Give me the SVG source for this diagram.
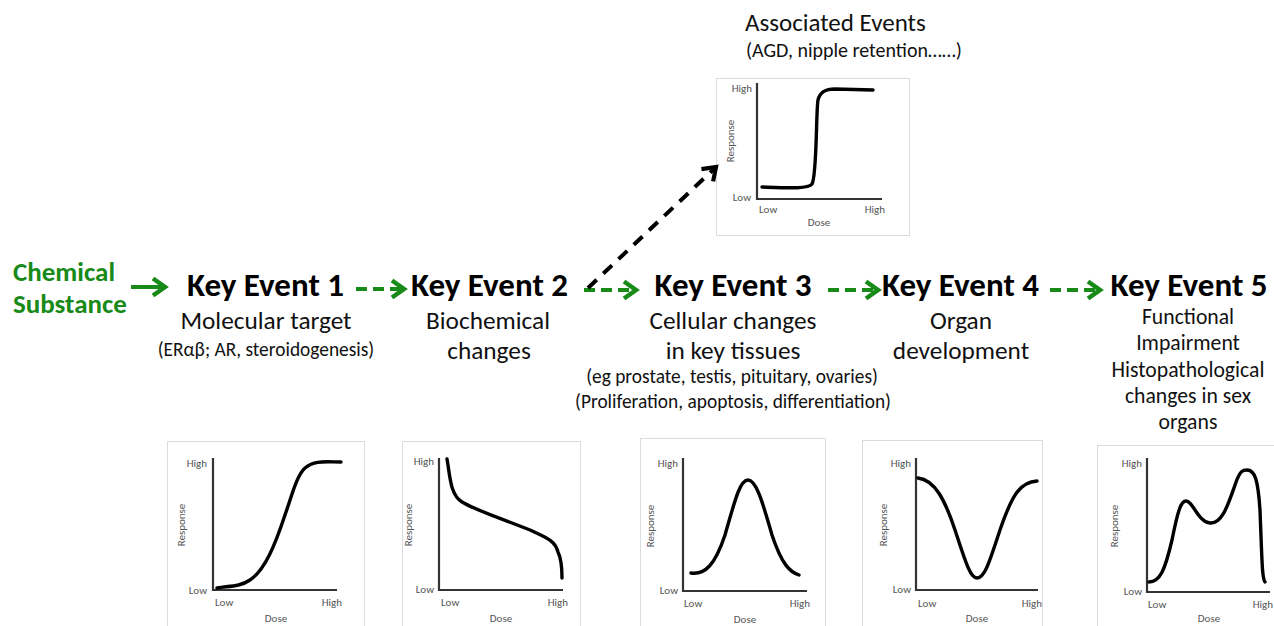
<svg xmlns="http://www.w3.org/2000/svg" width="1274" height="626" viewBox="0 0 1274 626">
<defs>
<marker id="gh" viewBox="0 0 20 24" refX="15" refY="12" markerWidth="20" markerHeight="24" orient="auto" markerUnits="userSpaceOnUse">
<path d="M3,3.5 L15,12 L3,20.5" fill="none" stroke="#178a17" stroke-width="4.5"/>
</marker>
<marker id="bh" viewBox="0 0 20 24" refX="15" refY="12" markerWidth="20" markerHeight="24" orient="auto" markerUnits="userSpaceOnUse">
<path d="M3,3.5 L15,12 L3,20.5" fill="none" stroke="#000" stroke-width="4.2"/>
</marker>
</defs>
<style>
text{font-family:Carlito,Lato,"Open Sans",sans-serif}
.key{font-size:33px;font-weight:bold;fill:#000;text-anchor:middle}
.sub{font-size:25.3px;fill:#111;text-anchor:middle}
.sub5{font-size:21.7px;fill:#111;text-anchor:middle}
.sm{font-size:19.4px;fill:#111;text-anchor:middle}
.chem{font-size:27px;font-weight:bold;fill:#178a17}
.box{fill:#fff;stroke:#dcdcdc;stroke-width:1}
.ax{fill:none;stroke:#333;stroke-width:2.2}
.cv{fill:none;stroke:#000;stroke-width:3.4;stroke-linecap:round;stroke-linejoin:round}
.lb{font-size:11px;fill:#555}
.e{text-anchor:end}
.m{text-anchor:middle}
.g{fill:none;stroke:#178a17;stroke-width:4}
.gd{stroke-dasharray:11 6}
.bd{fill:none;stroke:#000;stroke-width:4;stroke-dasharray:12 9}
</style>

<g id="associated">
<text x="745" y="31" style="font-size:25px;fill:#111">Associated Events</text>
<text x="746" y="57" style="font-size:20px;fill:#111">(AGD, nipple retention……)</text>
<rect class="box" x="716.5" y="78.5" width="193" height="157"/>
<path class="ax" d="M757,83 V199 H882"/>
<path class="cv" d="M762,187 C790,188 808,189 812,184 C817,176 816,110 818,100 C820,92 825,89 835,89 L873,90"/>
<text class="lb e" x="752" y="92">High</text>
<text class="lb e" x="751" y="201">Low</text>
<text class="lb" x="759" y="213">Low</text>
<text class="lb e" x="885" y="213">High</text>
<text class="lb m" x="819" y="226">Dose</text>
<text class="lb m" transform="translate(734,141) rotate(-90)">Response</text>
</g>

<g id="chemical">
<text class="chem" x="13" y="281">Chemical</text>
<text class="chem" x="13" y="313">Substance</text>
</g>

<g id="ke1">
<text class="key" x="265.5" y="296">Key Event 1</text>
<text class="sub" x="266" y="329">Molecular target</text>
<text class="sm" x="266" y="356">(ERαβ; AR, steroidogenesis)</text>
<rect class="box" x="167.5" y="441.5" width="197" height="190"/>
<path class="ax" d="M213,458 V590 H337"/>
<path class="cv" d="M217,588 C228,586 240,587 250,580 C265,570 275,545 285,515 C292,495 297,475 305,468 C315,460 325,462 341,462"/>
<text class="lb e" x="207" y="467">High</text>
<text class="lb e" x="207" y="594">Low</text>
<text class="lb" x="215" y="606">Low</text>
<text class="lb e" x="342" y="606">High</text>
<text class="lb m" x="276" y="622">Dose</text>
<text class="lb m" transform="translate(185,525) rotate(-90)">Response</text>
</g>

<g id="ke2">
<text class="key" x="489.5" y="296">Key Event 2</text>
<text class="sub" x="488" y="329">Biochemical</text>
<text class="sub" x="489" y="359">changes</text>
<rect class="box" x="402.5" y="441.5" width="178" height="190"/>
<path class="ax" d="M439,458 V590 H563"/>
<path class="cv" d="M447,459 C450,475 450,495 462,502 C475,510 500,518 530,530 C545,537 555,540 558,552 C562,560 562,570 562,578"/>
<text class="lb e" x="434" y="465">High</text>
<text class="lb e" x="434" y="593">Low</text>
<text class="lb" x="441" y="606">Low</text>
<text class="lb e" x="568" y="606">High</text>
<text class="lb m" x="501" y="622">Dose</text>
<text class="lb m" transform="translate(412,525) rotate(-90)">Response</text>
</g>

<g id="ke3">
<text class="key" x="733" y="296">Key Event 3</text>
<text class="sub" x="733" y="329">Cellular changes</text>
<text class="sub" x="733" y="359">in key tissues</text>
<text class="sm" x="732" y="383">(eg prostate, testis, pituitary, ovaries)</text>
<text class="sm" x="733" y="408">(Proliferation, apoptosis, differentiation)</text>
<rect class="box" x="640.5" y="438.5" width="185" height="193"/>
<path class="ax" d="M683,458 V591 H807"/>
<path class="cv" d="M691,573 C705,575 715,565 725,535 C735,500 740,480 748,480 C756,480 762,500 772,535 C782,565 790,572 799,575"/>
<text class="lb e" x="678" y="467">High</text>
<text class="lb e" x="678" y="594">Low</text>
<text class="lb" x="684" y="607">Low</text>
<text class="lb e" x="810" y="607">High</text>
<text class="lb m" x="745" y="623">Dose</text>
<text class="lb m" transform="translate(654,526) rotate(-90)">Response</text>
</g>

<g id="ke4">
<text class="key" x="960.5" y="296">Key Event 4</text>
<text class="sub" x="961" y="329">Organ</text>
<text class="sub" x="961" y="359">development</text>
<rect class="box" x="862.5" y="440.5" width="180" height="191"/>
<path class="ax" d="M916,458 V590 H1038"/>
<path class="cv" d="M918,478 C935,480 945,500 955,530 C965,560 970,578 977,578 C985,578 990,560 1000,530 C1012,495 1020,482 1037,481"/>
<text class="lb e" x="911" y="467">High</text>
<text class="lb e" x="911" y="593">Low</text>
<text class="lb" x="918" y="607">Low</text>
<text class="lb e" x="1042" y="607">High</text>
<text class="lb m" x="977" y="622">Dose</text>
<text class="lb m" transform="translate(887,525) rotate(-90)">Response</text>
</g>

<g id="ke5">
<text class="key" x="1189" y="296">Key Event 5</text>
<text class="sub5" x="1188" y="324">Functional</text>
<text class="sub5" x="1188" y="350">Impairment</text>
<text class="sub5" x="1188" y="377">Histopathological</text>
<text class="sub5" x="1188" y="403">changes in sex</text>
<text class="sub5" x="1188" y="429">organs</text>
<rect class="box" x="1097.5" y="445.5" width="190" height="190"/>
<path class="ax" d="M1147,458 V592 H1270"/>
<path class="cv" d="M1149,582 C1160,582 1165,570 1172,540 C1178,510 1181,501 1186,501 C1193,501 1198,522 1210,523 C1222,524 1228,505 1235,485 C1240,470 1243,470 1247,470 C1255,470 1258,480 1260,510 C1262,560 1262,578 1265,582"/>
<text class="lb e" x="1142" y="467">High</text>
<text class="lb e" x="1142" y="595">Low</text>
<text class="lb" x="1148" y="608">Low</text>
<text class="lb e" x="1273" y="608">High</text>
<text class="lb m" x="1209" y="622">Dose</text>
<text class="lb m" transform="translate(1118,526) rotate(-90)">Response</text>
</g>

<g id="connectors">
<path class="g" d="M131,287 H165" marker-end="url(#gh)"/>
<path class="g gd" d="M356,289 H404" marker-end="url(#gh)"/>
<path class="g gd" d="M584,290 H636" marker-end="url(#gh)"/>
<path class="g gd" d="M828,290 H878" marker-end="url(#gh)"/>
<path class="g gd" d="M1050,290 H1100" marker-end="url(#gh)"/>
<path class="bd" d="M588,288 L716,167" marker-end="url(#bh)"/>
</g>
</svg>
